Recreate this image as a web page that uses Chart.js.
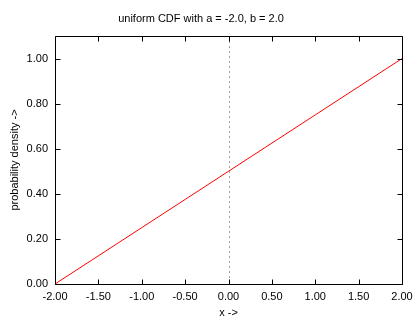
<!DOCTYPE html>
<html><head><meta charset="utf-8">
<script src="https://cdn.jsdelivr.net/npm/chart.js@4"></script>
<style>html,body{margin:0;padding:0;background:#fff}#wrap{width:420px;height:320px}</style>
</head><body><div id="wrap"><canvas id="c" width="420" height="320"></canvas></div>
<script>
const titleText = "uniform CDF with a = -2.0, b = 2.0";
const xLabel = "x ->";
const yLabel = "probability density ->";
const xValues = [-2.0, -1.0, 0.0, 1.0, 2.0];
const cdfValues = [0.0, 0.25, 0.5, 0.75, 1.0];
const xTicks = [-2.0, -1.5, -1.0, -0.5, 0.0, 0.5, 1.0, 1.5, 2.0];
const yTicks = [0.0, 0.2, 0.4, 0.6, 0.8, 1.0];
const xRange = [-2.0, 2.0];
const yRange = [0.0, 1.1];
const zeroLineX = 0.0;

const FONT = "'Liberation Sans', Arial, sans-serif";

const framePlugin = {
  id: 'frame',
  beforeDatasetsDraw(chart) {
    const {ctx, chartArea: a, scales: {x, y}} = chart;
    ctx.save();
    const zx = Math.round(x.getPixelForValue(zeroLineX)) + 0.5;
    ctx.strokeStyle = '#a0a0a0';
    ctx.lineWidth = 1;
    ctx.setLineDash([2, 3]);
    ctx.beginPath(); ctx.moveTo(zx, a.top); ctx.lineTo(zx, a.bottom); ctx.stroke();
    ctx.restore();
  },
  afterDatasetsDraw(chart) {
    const {ctx, chartArea: a, scales: {x, y}} = chart;
    ctx.save();
    ctx.strokeStyle = '#000';
    ctx.lineWidth = 1;
    const L = Math.round(a.left) + 0.5, R = Math.round(a.right) + 0.5;
    const T = Math.round(a.top) + 0.5, B = Math.round(a.bottom) + 0.5;
    ctx.beginPath();
    ctx.rect(L, T, R - L, B - T);
    const tl = 5;
    xTicks.forEach(v => {
      const px = Math.round(x.getPixelForValue(v)) + 0.5;
      ctx.moveTo(px, B); ctx.lineTo(px, B - tl);
      ctx.moveTo(px, T); ctx.lineTo(px, T + tl);
    });
    yTicks.forEach(v => {
      const py = Math.round(y.getPixelForValue(v)) + 0.5;
      ctx.moveTo(L, py); ctx.lineTo(L + tl, py);
      ctx.moveTo(R, py); ctx.lineTo(R - tl, py);
    });
    ctx.stroke();
    ctx.restore();
  }
};

new Chart(document.getElementById('c'), {
  type: 'scatter',
  data: {
    datasets: [{
      data: xValues.map((v, i) => ({x: v, y: cdfValues[i]})),
      showLine: true,
      borderColor: '#ff0000',
      borderWidth: 1,
      pointRadius: 0,
      fill: false
    }]
  },
  options: {
    responsive: false,
    animation: false,
    layout: {padding: {left: 0, right: 18, top: 0, bottom: 0}},
    plugins: {
      legend: {display: false},
      tooltip: {enabled: false},
      title: {
        display: true, text: titleText, color: '#000',
        font: {family: FONT, size: 11, weight: 'normal', lineHeight: 1.2},
        padding: {top: 12, bottom: 10.8}
      }
    },
    scales: {
      x: {
        type: 'linear', min: xRange[0], max: xRange[1],
        afterBuildTicks: s => { s.ticks = xTicks.map(v => ({value: v})); },
        afterFit: s => { s.height = 36; },
        grid: {display: false, drawTicks: false},
        border: {display: false},
        ticks: {color: '#000', padding: 6, maxRotation: 0, autoSkip: false,
          font: {family: FONT, size: 11},
          callback: v => Number(v).toFixed(2)},
        title: {display: true, text: xLabel, color: '#000', padding: {top: 0, bottom: 0},
          font: {family: FONT, size: 11}}
      },
      y: {
        type: 'linear', min: yRange[0], max: yRange[1],
        afterBuildTicks: s => { s.ticks = yTicks.map(v => ({value: v})); },
        afterFit: s => { s.width = 55; },
        grid: {display: false, drawTicks: false},
        border: {display: false},
        ticks: {color: '#000', padding: 7, autoSkip: false,
          font: {family: FONT, size: 11},
          callback: v => Number(v).toFixed(2)},
        title: {display: true, text: yLabel, color: '#000', padding: {top: 8, bottom: 4},
          font: {family: FONT, size: 11}}
      }
    }
  },
  plugins: [framePlugin]
});
</script>
</body></html>
